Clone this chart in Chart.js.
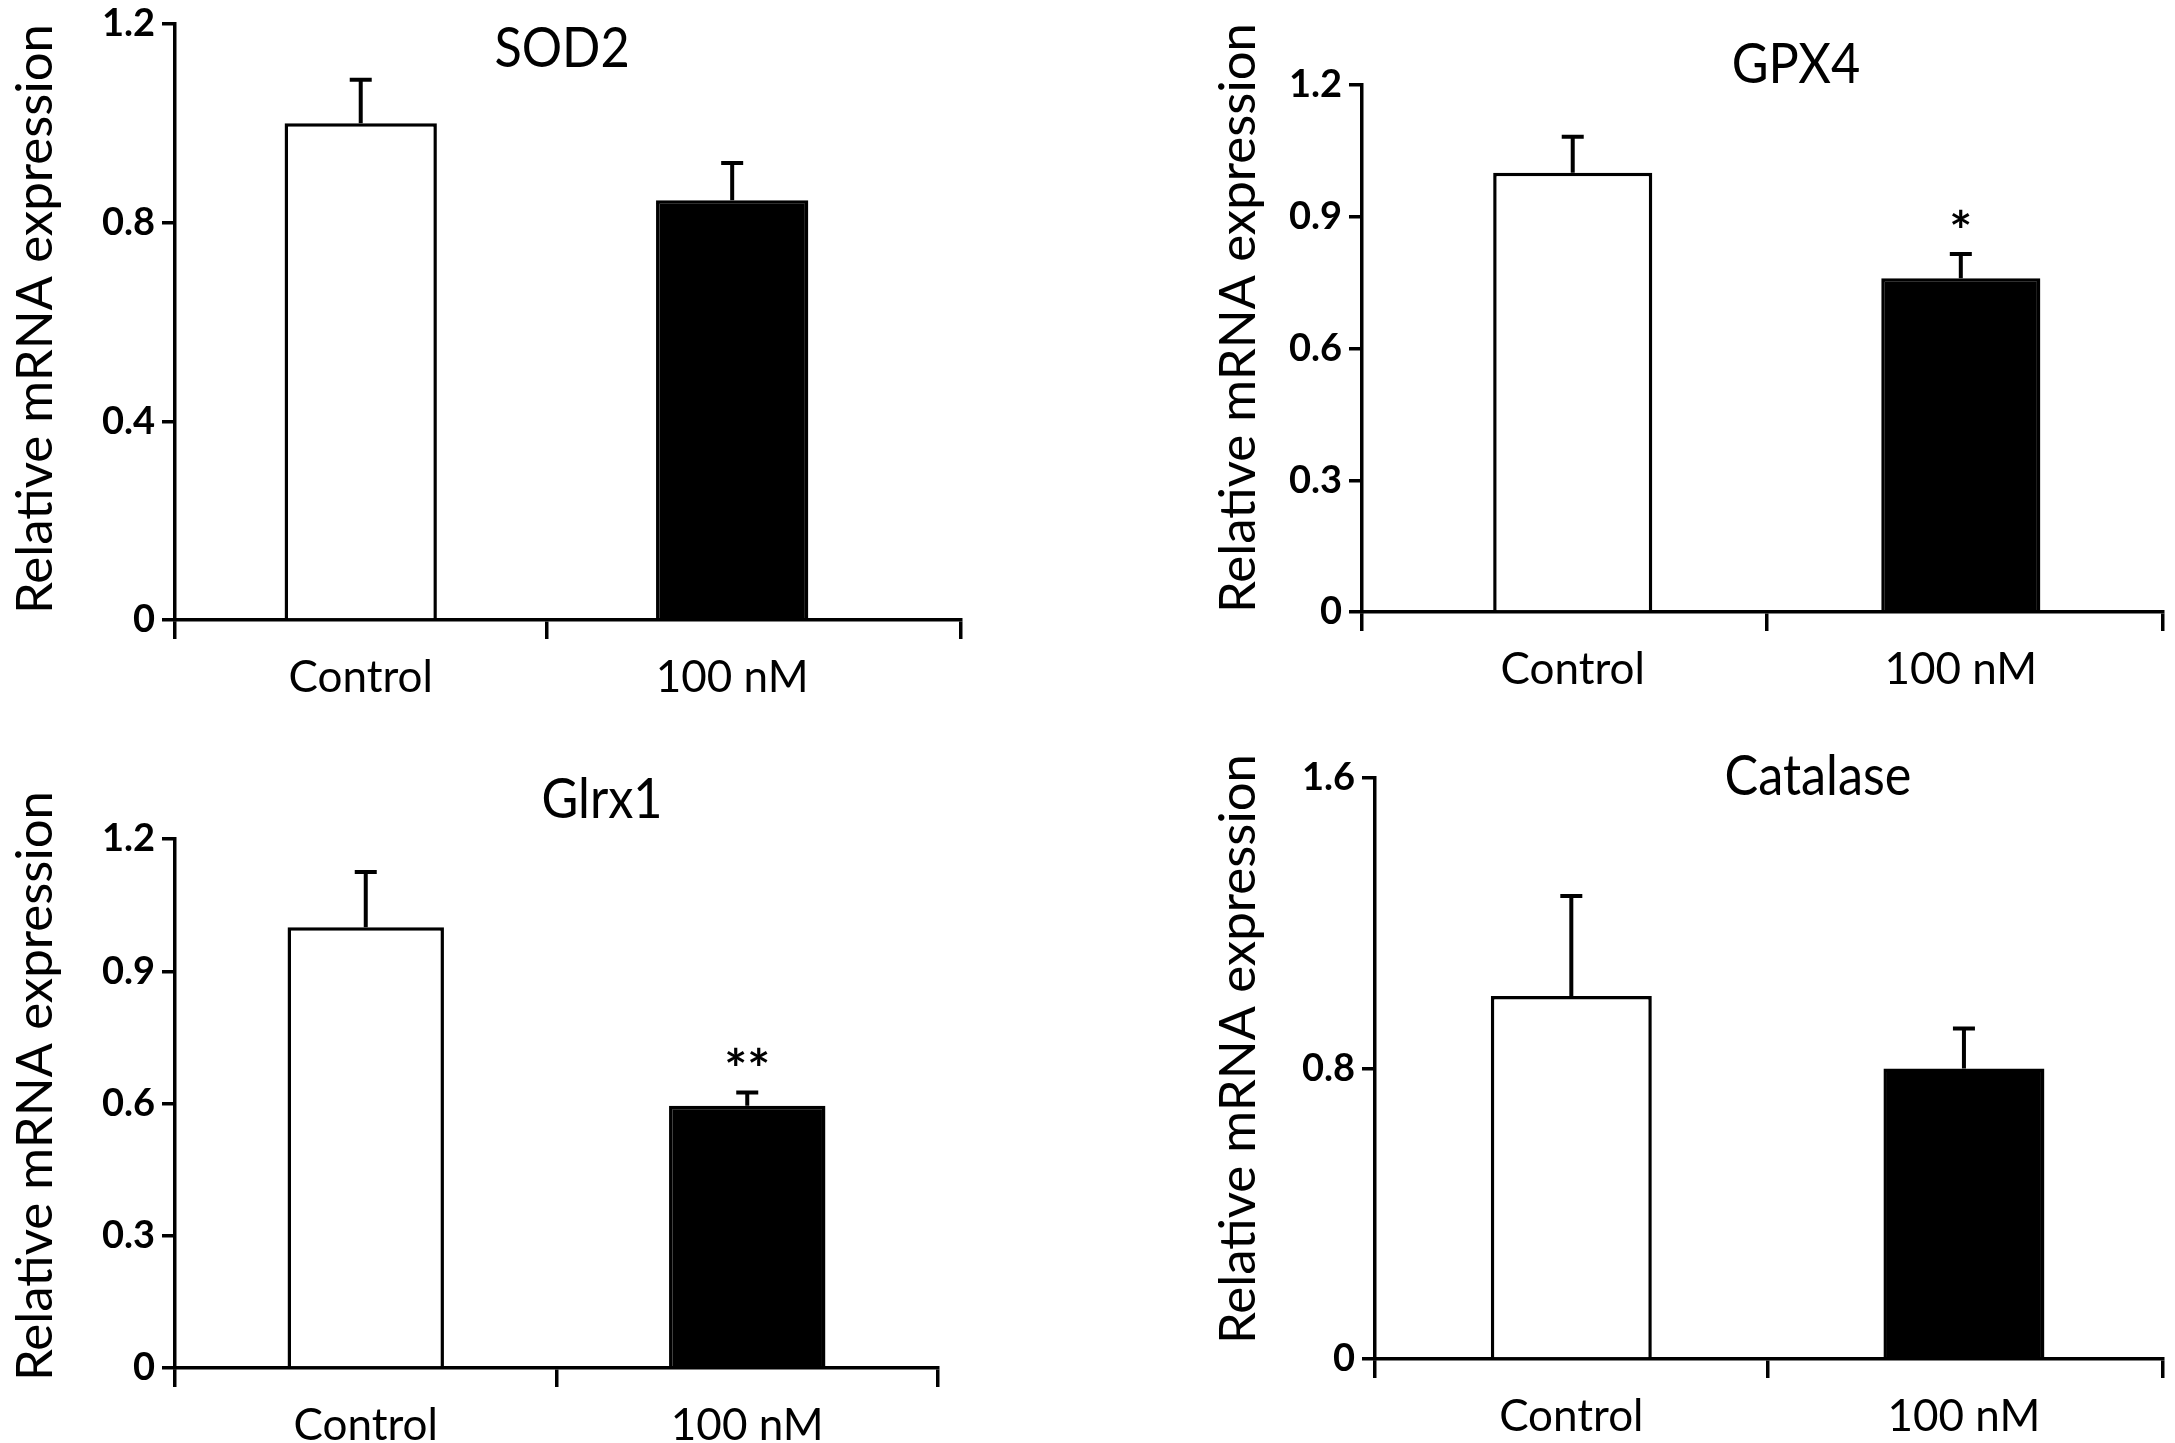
<!DOCTYPE html>
<html>
<head>
<meta charset="utf-8">
<script src="https://cdn.jsdelivr.net/npm/chart.js@4.4.1/dist/chart.umd.min.js"></script>
<style>
  html, body { margin: 0; padding: 0; background: #fff; }
  #page { position: relative; width: 2175px; height: 1443px; overflow: hidden; }
  .panel { position: absolute; }
</style>
</head>
<body>
<div id="page"></div>
<script>
// groups on the x axis
const groups = ['Control', '100 nM'];

// SOD2
const sod2Mean = [1.00, 0.845];
const sod2Sem  = [0.088, 0.075];
const sod2Sig  = ['', ''];
const sod2Ticks = [0, 0.4, 0.8, 1.2];
const sod2TickLabels = ['0', '0.4', '0.8', '1.2'];

// GPX4
const gpx4Mean = [1.00, 0.76];
const gpx4Sem  = [0.082, 0.055];
const gpx4Sig  = ['', '*'];
const gpx4Ticks = [0, 0.3, 0.6, 0.9, 1.2];
const gpx4TickLabels = ['0', '0.3', '0.6', '0.9', '1.2'];

// Glrx1
const glrx1Mean = [1.00, 0.595];
const glrx1Sem  = [0.125, 0.03];
const glrx1Sig  = ['', '**'];
const glrx1Ticks = [0, 0.3, 0.6, 0.9, 1.2];
const glrx1TickLabels = ['0', '0.3', '0.6', '0.9', '1.2'];

// Catalase
const catMean = [1.00, 0.80];
const catSem  = [0.275, 0.11];
const catSig  = ['', ''];
const catTicks = [0, 0.8, 1.6];
const catTickLabels = ['0', '0.8', '1.6'];

const yTitle = 'Relative mRNA expression';
const FONT = 'Lato, "Open Sans", sans-serif';

// box: canvas on the page, area: plot area in the canvas,
// xMin/xMax: extent of the x axis in group units (bars sit at 0.5, 1.5)
const panels = [
  { title: 'SOD2', mean: sod2Mean, sem: sod2Sem, sig: sod2Sig, ticks: sod2Ticks, labels: sod2TickLabels,
    box: [0, -40, 1087, 760], area: [175, 64, 961, 660], xMin: 0, xMax: 2.116,
    titleAt: [562, 89], yTitleAt: [36, 359] },
  { title: 'GPX4', mean: gpx4Mean, sem: gpx4Sem, sig: gpx4Sig, ticks: gpx4Ticks, labels: gpx4TickLabels,
    box: [1087, 0, 1088, 720], area: [275, 85, 1081, 612], xMin: -0.043, xMax: 2.021,
    titleAt: [709, 65], yTitleAt: [152, 318] },
  { title: 'Glrx1', mean: glrx1Mean, sem: glrx1Sem, sig: glrx1Sig, ticks: glrx1Ticks, labels: glrx1TickLabels,
    box: [0, 720, 1087, 723], area: [175, 119, 938, 648], xMin: 0, xMax: 2.0,
    titleAt: [602, 80], yTitleAt: [36, 366] },
  { title: 'Catalase', mean: catMean, sem: catSem, sig: catSig, ticks: catTicks, labels: catTickLabels,
    box: [1087, 720, 1088, 723], area: [288, 58, 1081, 639], xMin: 0, xMax: 2.007,
    titleAt: [731, 57], yTitleAt: [152, 329] },
];

// error bars, significance stars, panel title and y axis title
const annotPlugin = {
  id: 'annot',
  afterDatasetsDraw(chart, args, opts) {
    const ctx = chart.ctx;
    const y = chart.scales.y;
    const meta = chart.getDatasetMeta(0);
    ctx.save();
    ctx.strokeStyle = '#000';
    ctx.fillStyle = '#000';
    ctx.lineWidth = 4;
    meta.data.forEach((bar, i) => {
      const top = y.getPixelForValue(opts.mean[i] + opts.sem[i]);
      ctx.beginPath();
      ctx.moveTo(bar.x, bar.y);
      ctx.lineTo(bar.x, top);
      ctx.moveTo(bar.x - 11, top);
      ctx.lineTo(bar.x + 11, top);
      ctx.stroke();
      if (opts.sig[i]) {
        ctx.font = 'bold 54px ' + FONT;
        ctx.textAlign = 'center';
        ctx.textBaseline = 'middle';
        ctx.fillText(opts.sig[i], bar.x, top - 22);
      }
    });
    ctx.textAlign = 'center';
    ctx.textBaseline = 'middle';

    // panel title, slightly condensed
    ctx.save();
    ctx.translate(opts.titleAt[0], opts.titleAt[1]);
    ctx.scale(0.9, 1);
    ctx.font = '56px ' + FONT;
    ctx.fillText(opts.title, 0, 0);
    ctx.restore();

    // y axis title
    ctx.save();
    ctx.translate(opts.yTitleAt[0], opts.yTitleAt[1]);
    ctx.rotate(-Math.PI / 2);
    ctx.font = '51px ' + FONT;
    ctx.fillText(yTitle, 0, 0);
    ctx.restore();

    ctx.restore();
  }
};

const page = document.getElementById('page');

panels.forEach(p => {
  const [bx, by, bw, bh] = p.box;
  const [al, at, ar, ab] = p.area;
  const div = document.createElement('div');
  div.className = 'panel';
  div.style.left = bx + 'px';
  div.style.top = by + 'px';
  div.style.width = bw + 'px';
  div.style.height = bh + 'px';
  const cv = document.createElement('canvas');
  cv.width = bw;
  cv.height = bh;
  cv.style.width = bw + 'px';
  cv.style.height = bh + 'px';
  div.appendChild(cv);
  page.appendChild(div);

  const yMax = p.ticks[p.ticks.length - 1];
  // x ticks: axis ends and group boundary carry tick marks, group centres carry the labels
  const xTicks = [p.xMin, 0.5, 1, 1.5, p.xMax];
  const isMark = i => i % 2 === 0;

  new Chart(cv.getContext('2d'), {
    type: 'bar',
    data: {
      datasets: [{
        data: p.mean.map((v, i) => ({ x: i + 0.5, y: v })),
        backgroundColor: ['#ffffff', '#000000'],
        borderColor: '#000000',
        borderWidth: 3.5,
        // bar width is measured against the half-unit tick spacing
        barPercentage: 0.82,
        categoryPercentage: 1.0,
      }],
    },
    options: {
      responsive: false,
      animation: false,
      devicePixelRatio: 1,
      layout: { padding: { left: 0, top: at, right: bw - ar, bottom: 0 } },
      plugins: {
        legend: { display: false },
        tooltip: { enabled: false },
        annot: { mean: p.mean, sem: p.sem, sig: p.sig, title: p.title,
                 titleAt: p.titleAt, yTitleAt: p.yTitleAt },
      },
      scales: {
        x: {
          type: 'linear',
          min: p.xMin,
          max: p.xMax,
          offset: false,
          afterBuildTicks: s => { s.ticks = xTicks.map(v => ({ value: v })); },
          grid: {
            offset: false,
            drawOnChartArea: false,
            color: c => isMark(c.index) ? '#000' : 'rgba(0,0,0,0)',
            lineWidth: 3.5,
            tickLength: 19,
          },
          border: { color: '#000', width: 3.5 },
          ticks: {
            color: '#000',
            font: { family: FONT, size: 44 },
            padding: 12,
            maxRotation: 0,
            autoSkip: false,
            callback: (v, i) => isMark(i) ? '' : groups[(i - 1) / 2],
          },
          afterFit: s => { s.height = bh - ab; },
        },
        y: {
          min: 0,
          max: yMax,
          afterBuildTicks: s => { s.ticks = p.ticks.map(v => ({ value: v })); },
          grid: { drawOnChartArea: false, color: '#000', lineWidth: 3.5, tickLength: 13 },
          border: { color: '#000', width: 3.5 },
          ticks: {
            color: '#000',
            font: { family: FONT, size: 38, weight: 'bold' },
            padding: 7,
            callback: (v, i) => p.labels[i],
          },
          afterFit: s => { s.width = al; },
        },
      },
    },
    plugins: [annotPlugin],
  });
});
</script>
</body>
</html>
